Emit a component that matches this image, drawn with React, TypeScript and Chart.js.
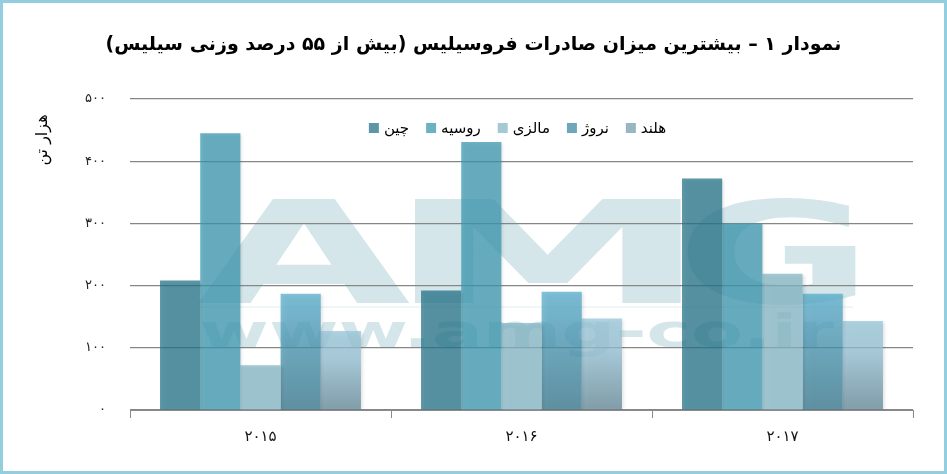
import { useEffect, useRef } from 'react';
import { Chart, registerables } from 'chart.js';

Chart.register(...registerables);

const TITLE = 'نمودار ۱ – بیشترین میزان صادرات فروسیلیس (بیش از ۵۵ درصد وزنی سیلیس)';
const Y_TITLE = 'هزار تن';
const YEARS = ['۲۰۱۵', '۲۰۱۶', '۲۰۱۷'];
const Y_TICKS = ['۰', '۱۰۰', '۲۰۰', '۳۰۰', '۴۰۰', '۵۰۰'];
const COUNTRIES = ['چین', 'روسیه', 'مالزی', 'نروژ', 'هلند'];
const CHINA = [208, 192, 372];
const RUSSIA = [445, 431, 300];
const MALAYSIA = [72, 140, 219];
const NORWAY = [187, 190, 187];
const NETHERLANDS = [127, 147, 143];

const FONT = 'DejaVu Sans';
const WM_COLOR = '#d5e6eb';
const BAR_ALPHA = 0.75;
const LEGEND_COLORS = ['#5c97a7', '#6db2c4', '#a3c9d4', '#6fa6b9', '#98b6c2'];

// translucent colour that looks like `hex` when drawn over white
function seeThrough(hex: string) {
  const n = parseInt(hex.slice(1), 16);
  const ch = [n >> 16, (n >> 8) & 255, n & 255].map((v) =>
    Math.max(0, Math.round((v - 255 * (1 - BAR_ALPHA)) / BAR_ALPHA)),
  );
  return `rgba(${ch.join(',')},${BAR_ALPHA})`;
}

// vertical gradient per bar, from the bar top down to the zero line
function barGradient(stops: [number, string][], legendColor: string) {
  return (ctx: any) => {
    const { chart, raw } = ctx;
    const y = chart.scales?.y;
    if (!chart.chartArea || !y || raw == null) return seeThrough(legendColor);
    const top = y.getPixelForValue(raw);
    const base = y.getPixelForValue(0);
    if (!isFinite(top) || top === base) return seeThrough(legendColor);
    const g = chart.ctx.createLinearGradient(0, top, 0, base);
    stops.forEach(([at, c]) => g.addColorStop(at, seeThrough(c)));
    return g;
  };
}

// draw text so that its ink box fills the given width (and cap height, if given)
function fitText(c: CanvasRenderingContext2D, text: string, font: string, x: number, y: number, width: number, height?: number) {
  c.font = font;
  const m = c.measureText(text);
  const inkW = m.actualBoundingBoxLeft + m.actualBoundingBoxRight;
  const sx = width / inkW;
  const sy = height ? height / m.actualBoundingBoxAscent : 1;
  c.save();
  c.translate(x + m.actualBoundingBoxLeft * sx, y);
  c.scale(sx, sy);
  c.fillText(text, 0, 0);
  c.restore();
}

const decorations = {
  id: 'decorations',
  beforeDraw(chart: Chart) {
    // AMG watermark behind grid and bars
    const c = chart.ctx;
    const a = chart.chartArea;
    c.save();
    c.direction = 'ltr';
    c.textAlign = 'left';
    c.textBaseline = 'alphabetic';
    c.fillStyle = WM_COLOR;
    const wmFont = `bold 140px "${FONT}"`;
    fitText(c, 'A', wmFont, a.left + 67, a.top + 204, 213, 105);
    fitText(c, 'M', wmFont, a.left + 283, a.top + 204, 269, 105);
    fitText(c, 'G', wmFont, a.left + 556, a.top + 204, 170, 105);
    fitText(c, 'www.amg-co.ir', `bold 46px "${FONT}"`, a.left + 71, a.top + 248, 634);
    c.fillStyle = '#eef6f8';
    c.fillRect(a.left + 67, a.top + 207, 656, 2);
    c.restore();
  },
  beforeDatasetsDraw(chart: Chart) {
    const c = chart.ctx;
    c.save();
    c.shadowColor = 'rgba(0,0,0,0.16)';
    c.shadowBlur = 3;
    c.shadowOffsetX = 2;
    c.shadowOffsetY = 1;
  },
  afterDatasetsDraw(chart: Chart) {
    chart.ctx.restore();
  },
  afterDraw(chart: Chart) {
    const c = chart.ctx;
    const a = chart.chartArea;
    c.save();

    // title, centred on the whole canvas
    c.direction = 'rtl';
    c.fillStyle = '#000';
    c.font = `bold 19px "${FONT}"`;
    c.textAlign = 'center';
    c.textBaseline = 'middle';
    c.fillText(TITLE, chart.width / 2, 42);

    // rotated unit label next to the top of the value axis
    c.save();
    c.translate(40, 137);
    c.rotate(-Math.PI / 2);
    c.font = `16px "${FONT}"`;
    c.fillText(Y_TITLE, 0, 0);
    c.restore();

    // legend laid out horizontally inside the plot, near its top
    c.direction = 'ltr';
    c.font = `15px "${FONT}"`;
    c.textAlign = 'left';
    const box = 10;
    const gap = 5;
    const spacing = 17;
    const labels = chart.data.datasets.map((d) => String(d.label));
    const widths = labels.map((l) => box + gap + c.measureText(l).width);
    const total = widths.reduce((s, w) => s + w, 0) + spacing * (labels.length - 1);
    let x = (a.left + a.right) / 2 - total / 2 - 4;
    const y = a.top + 29;
    labels.forEach((l, i) => {
      c.fillStyle = LEGEND_COLORS[i];
      c.fillRect(x, y - box / 2, box, box);
      c.fillStyle = '#000';
      c.fillText(l, x + box + gap, y + 1);
      x += widths[i] + spacing;
    });
    c.restore();
  },
};

function ExportChart() {
  const canvasRef = useRef<HTMLCanvasElement>(null);

  useEffect(() => {
    const canvas = canvasRef.current;
    if (!canvas) return;

    const chart = new Chart(canvas, {
      type: 'bar',
      data: {
        labels: YEARS,
        datasets: [
          { label: COUNTRIES[0], data: CHINA, backgroundColor: seeThrough('#5c97a7') },
          { label: COUNTRIES[1], data: RUSSIA, backgroundColor: seeThrough('#6db2c4') },
          { label: COUNTRIES[2], data: MALAYSIA, backgroundColor: seeThrough('#a3c9d4') },
          {
            label: COUNTRIES[3],
            data: NORWAY,
            backgroundColor: barGradient([[0, '#80c2da'], [1, '#6597a8']], LEGEND_COLORS[3]),
          },
          {
            label: COUNTRIES[4],
            data: NETHERLANDS,
            backgroundColor: barGradient([[0, '#b1d5e3'], [0.35, '#aed0de'], [1, '#88a4b0']], LEGEND_COLORS[4]),
          },
        ],
      },
      options: {
        animation: false,
        responsive: true,
        maintainAspectRatio: false,
        datasets: { bar: { categoryPercentage: 0.77, barPercentage: 1 } },
        layout: { padding: { left: 0, right: 31, top: 96, bottom: 0 } },
        plugins: {
          title: { display: false },
          legend: { display: false },
          tooltip: { enabled: false },
        },
        scales: {
          x: {
            afterFit: (s: any) => {
              s.height = 61;
            },
            grid: { drawOnChartArea: false, color: '#8a8a8a', tickLength: 8 },
            border: { color: '#8a8a8a' },
            ticks: { color: '#111', padding: 10, font: { family: FONT, size: 15 } },
          },
          y: {
            min: 0,
            max: 500,
            afterFit: (s: any) => {
              s.width = 127;
            },
            grid: { color: '#868686', lineWidth: 1.2, drawTicks: false },
            border: { display: false },
            ticks: {
              stepSize: 100,
              padding: 24,
              color: '#222',
              font: { family: FONT, size: 13 },
              callback: (v: any) => Y_TICKS[Math.round(Number(v) / 100)],
            },
          },
        },
      },
      plugins: [decorations],
    });

    return () => chart.destroy();
  }, []);

  return (
    <div style={{ position: 'relative', width: 941, height: 468 }}>
      <canvas ref={canvasRef} dir="rtl" />
    </div>
  );
}

export default function App() {
  return (
    <div
      style={{
        position: 'absolute',
        left: 0,
        top: 0,
        width: 947,
        height: 474,
        boxSizing: 'border-box',
        border: '3px solid #93cee0',
        background: '#fff',
      }}
    >
      <ExportChart />
    </div>
  );
}
